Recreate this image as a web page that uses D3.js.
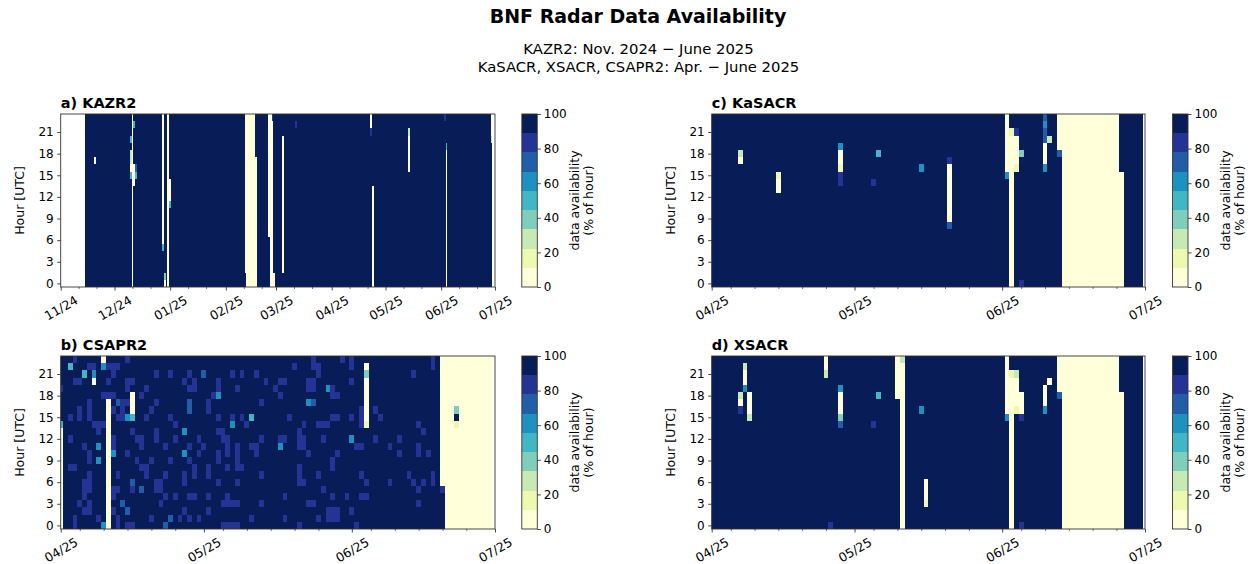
<!DOCTYPE html>
<html>
<head>
<meta charset="utf-8">
<script src="https://cdn.jsdelivr.net/npm/d3@7"></script>
<style>
  body { margin: 0; background: #fff; }
  svg { display: block; font-family: "DejaVu Sans", sans-serif; }
</style>
</head>
<body>
<svg id="chart" width="1252" height="564"></svg>
<script>
// ---- colour classes: YlGnBu, 9 equal classes from 0 to 100 % ----
const levelColors = ["#ffffd9", "#edf8b1", "#c7e9b4", "#7fcdbb", "#41b6c4",
                     "#1d91c0", "#225ea8", "#253494", "#081d58"];
const colorbarTicks = [0, 20, 40, 60, 80, 100];
const hourTicks = [0, 3, 6, 9, 12, 15, 18, 21];

// ---- time axes ----
const kazr2Axis = ["2024-11-01", "2025-07-01"];
const kazr2MonthLabels = ["11/24", "12/24", "01/25", "02/25", "03/25", "04/25", "05/25", "06/25", "07/25"];
const kazr2MinorDays = [11, 21];
const springAxis = ["2025-04-01", "2025-07-01"];
const springMonthLabels = ["04/25", "05/25", "06/25", "07/25"];
const springMinorDays = [5, 10, 15, 20, 25];

// first and last day with data for each radar
const kazr2Days = ["2024-11-15", "2025-06-29"];
const csapr2Days = ["2025-04-01", "2025-06-30"];
const kasacrDays = ["2025-04-01", "2025-06-30"];
const xsacrDays = ["2025-04-01", "2025-06-30"];

// Hours below 100 % availability.
// Each run: [day number since axis start, first hour, last hour, availability %]
const kazr2Runs = [
  [19, 17, 17, 5],
  [39, 17, 18, 30], [39, 20, 20, 55], [39, 16, 16, 0], [39, 15, 15, 55],
  [40, 0, 23, 0],
  [41, 22, 22, 55], [41, 14, 16, 0],
  [42, 16, 16, 75], [42, 15, 15, 50],
  [57, 6, 23, 0], [57, 5, 5, 55],
  [58, 1, 1, 35], [58, 0, 0, 5],
  [60, 0, 23, 0],
  [61, 12, 14, 0], [61, 11, 11, 55],
  [103, 2, 23, 0],
  [104, 0, 23, 0], [105, 0, 23, 0], [106, 0, 23, 0], [107, 0, 23, 0], [108, 0, 23, 0],
  [109, 0, 17, 0],
  [116, 7, 23, 0],
  [117, 0, 23, 0],
  [118, 0, 22, 0], [118, 23, 23, 80],
  [119, 0, 1, 0],
  [124, 2, 20, 0],
  [131, 22, 22, 80],
  [173, 22, 23, 0], [173, 21, 21, 80],
  [174, 0, 13, 0],
  [194, 21, 21, 30], [194, 16, 20, 0],
  [214, 23, 23, 80],
  [215, 19, 19, 55], [215, 0, 18, 0],
  [240, 21, 23, 0], [240, 20, 20, 25]
];

const kasacrRuns = [
  [6, 18, 18, 25], [6, 17, 17, 0],
  [14, 15, 15, 15], [14, 13, 14, 0],
  [27, 19, 19, 60], [27, 17, 18, 0], [27, 16, 16, 15], [27, 14, 15, 80],
  [34, 14, 14, 80],
  [35, 18, 18, 45],
  [44, 16, 16, 60],
  [50, 17, 17, 80], [50, 9, 16, 0], [50, 8, 8, 70],
  [62, 16, 23, 0], [62, 15, 15, 60],
  [63, 21, 21, 15], [63, 0, 20, 0],
  [64, 21, 21, 80], [64, 17, 20, 0], [64, 16, 16, 15],
  [65, 18, 18, 35], [65, 0, 0, 80],
  [70, 23, 23, 70], [70, 22, 22, 60], [70, 20, 21, 70], [70, 17, 19, 0], [70, 16, 16, 60],
  [71, 20, 20, 30],
  [73, 19, 23, 0], [73, 18, 18, 70],
  [74, 0, 23, 0], [75, 0, 23, 0], [76, 0, 23, 0], [77, 0, 23, 0], [78, 0, 23, 0], [79, 0, 23, 0],
  [80, 0, 23, 0], [81, 0, 23, 0], [82, 0, 23, 0], [83, 0, 23, 0], [84, 0, 23, 0], [85, 0, 23, 0],
  [86, 0, 15, 0]
];

const xsacrRuns = [
  [6, 18, 18, 25], [6, 17, 17, 5], [6, 16, 16, 80],
  [7, 22, 22, 25], [7, 20, 21, 0], [7, 19, 19, 60],
  [8, 16, 18, 0], [8, 15, 15, 25],
  [24, 22, 23, 0], [24, 21, 21, 25],
  [25, 0, 0, 80],
  [27, 19, 19, 60], [27, 16, 18, 0], [27, 15, 15, 35], [27, 14, 14, 70],
  [34, 14, 14, 80],
  [35, 18, 18, 45],
  [39, 18, 23, 0],
  [40, 23, 23, 25], [40, 0, 22, 0],
  [44, 16, 16, 60],
  [45, 4, 6, 0], [45, 3, 3, 15],
  [62, 16, 23, 0], [62, 15, 15, 60],
  [63, 21, 21, 15], [63, 0, 20, 0],
  [64, 21, 21, 25], [64, 17, 20, 0], [64, 16, 16, 15],
  [65, 16, 18, 0], [65, 15, 15, 80], [65, 0, 0, 80],
  [70, 17, 19, 0], [70, 16, 16, 60],
  [71, 20, 20, 0],
  [73, 19, 23, 0], [73, 18, 18, 70],
  [74, 0, 23, 0], [75, 0, 23, 0], [76, 0, 23, 0], [77, 0, 23, 0], [78, 0, 23, 0], [79, 0, 23, 0],
  [80, 0, 23, 0], [81, 0, 23, 0], [82, 0, 23, 0], [83, 0, 23, 0], [84, 0, 23, 0], [85, 0, 23, 0],
  [86, 0, 18, 0]
];

const csapr2Runs = [
  [0, 0, 13, 0], [0, 14, 14, 45],
  [7, 21, 21, 60], [7, 20, 20, 0],
  [9, 23, 23, 0], [9, 22, 22, 60],
  [10, 0, 17, 0],
  [15, 16, 18, 0], [15, 15, 15, 45],
  [64, 22, 22, 0], [64, 21, 21, 35], [64, 15, 20, 0], [64, 14, 14, 15],
  [80, 6, 23, 0], [80, 5, 5, 80],
  [81, 0, 23, 0], [82, 0, 23, 0],
  [83, 17, 23, 0], [83, 16, 16, 35], [83, 15, 15, 100], [83, 14, 14, 15], [83, 0, 13, 0],
  [84, 0, 23, 0], [85, 0, 23, 0], [86, 0, 23, 0], [87, 0, 23, 0], [88, 0, 23, 0],
  [89, 0, 23, 0], [90, 0, 23, 0]
];

// CSAPR2 single hours with partial availability: [hour, availability %, day numbers]
const csapr2Partial = [
  [23, 80, [3, 14, 53, 59, 61, 78]],
  [22, 80, [6, 7, 10, 11, 12, 49, 53, 54, 61, 78]], [22, 50, [2]],
  [21, 80, [11, 20, 23, 27, 36, 38, 41, 54, 74]], [21, 50, [5]], [21, 70, [30]],
  [20, 80, [3, 4, 10, 14, 15, 26, 28, 33, 43, 46, 47, 52, 53, 61]],
  [19, 80, [0, 14, 18, 27, 28, 33, 37, 45, 52, 53, 57]], [19, 60, [56]],
  [18, 80, [9, 10, 11, 17, 32, 46, 57, 58]], [18, 60, [33]],
  [17, 80, [6, 13, 14, 20, 31, 42]], [17, 70, [12, 27, 53]], [17, 60, [52]],
  [16, 80, [4, 6, 11, 13, 19, 31, 63, 66]], [16, 70, [27]],
  [15, 80, [2, 4, 6, 12, 13, 18, 23, 33, 36, 38, 48, 57, 58, 61, 63, 67]], [15, 60, [14]], [15, 45, [40]],
  [14, 80, [7, 8, 9, 24, 39, 51, 54, 55, 56, 63, 75]], [14, 60, [36]],
  [13, 80, [8, 15, 20, 33, 34, 50, 76]], [13, 60, [26]],
  [12, 80, [2, 11, 16, 17, 20, 24, 29, 34, 35, 42, 46, 47, 51, 50, 55, 66, 71]], [12, 60, [61]],
  [11, 80, [5, 11, 17, 22, 27, 30, 35, 37, 40, 41, 51, 50, 62, 63, 69, 75]], [11, 60, [8, 46]],
  [10, 80, [6, 14, 29, 33, 35, 37, 41, 52, 58, 71, 75, 77]], [10, 60, [11, 26]],
  [9, 80, [6, 16, 19, 23, 27, 33, 37, 57]], [9, 60, [8]],
  [8, 80, [2, 3, 17, 18, 28, 31, 35, 37, 38, 50, 57]],
  [7, 80, [6, 12, 18, 22, 26, 28, 31, 42, 50, 54, 63, 73, 78]],
  [6, 80, [5, 6, 20, 21, 26, 33, 37, 51, 50, 64, 69, 74, 76, 78]], [6, 70, [15]],
  [5, 80, [5, 6, 11, 12, 15, 20, 21, 55, 75]], [5, 70, [17]],
  [4, 80, [5, 11, 22, 24, 27, 28, 31, 35, 47, 57, 60, 63, 64]],
  [3, 80, [4, 6, 21, 34, 35, 36, 37, 42, 53, 52, 75]], [3, 70, [13]],
  [2, 80, [5, 6, 11, 26, 31, 56, 57, 58, 61]], [2, 70, [14]],
  [1, 80, [3, 8, 12, 19, 25, 27, 29, 40, 47, 54, 56, 57, 58]], [1, 70, [23]],
  [0, 80, [3, 12, 14, 15, 34, 35, 36, 37, 50, 62]], [0, 60, [9]], [0, 70, [22]]
];

// ---- figure ----
const svg = d3.select("#chart");
const parseDay = d3.utcParse("%Y-%m-%d");
const color = d3.scaleQuantize().domain([0, 100]).range(levelColors);
const spine = "#333";

svg.append("text").attr("x", 638).attr("y", 22.5).attr("text-anchor", "middle")
  .attr("font-size", 19).attr("font-weight", "bold").text("BNF Radar Data Availability");
svg.append("text").attr("x", 638.5).attr("y", 53.5).attr("text-anchor", "middle")
  .attr("font-size", 14.8).text("KAZR2: Nov. 2024 \u2212 June 2025");
svg.append("text").attr("x", 638.5).attr("y", 71.5).attr("text-anchor", "middle")
  .attr("font-size", 14.8).text("KaSACR, XSACR, CSAPR2: Apr. \u2212 June 2025");

const panels = [
  { title: "a) KAZR2", axis: kazr2Axis, days: kazr2Days, runs: kazr2Runs, partial: [],
    labels: kazr2MonthLabels, minor: kazr2MinorDays, left: 60.7, top: 114, right: 495, bottom: 287, cbx: 521.8 },
  { title: "b) CSAPR2", axis: springAxis, days: csapr2Days, runs: csapr2Runs, partial: csapr2Partial,
    labels: springMonthLabels, minor: springMinorDays, left: 60.7, top: 356, right: 495, bottom: 529, cbx: 521.8 },
  { title: "c) KaSACR", axis: springAxis, days: kasacrDays, runs: kasacrRuns, partial: [],
    labels: springMonthLabels, minor: springMinorDays, left: 711.7, top: 114, right: 1145, bottom: 287, cbx: 1172.5 },
  { title: "d) XSACR", axis: springAxis, days: xsacrDays, runs: xsacrRuns, partial: [],
    labels: springMonthLabels, minor: springMinorDays, left: 711.7, top: 356, right: 1145, bottom: 529, cbx: 1172.5 }
];

function buildCells(p) {
  const start = parseDay(p.axis[0]);
  const first = d3.utcDay.count(start, parseDay(p.days[0]));
  const last = d3.utcDay.count(start, parseDay(p.days[1]));
  const grid = new Map();
  for (let d = first; d <= last; d++) for (let h = 0; h < 24; h++) grid.set(d * 24 + h, 100);
  p.partial.forEach(([h, v, days]) => days.forEach(d => grid.set(d * 24 + h, v)));
  p.runs.forEach(([d, h0, h1, v]) => { for (let h = h0; h <= h1; h++) grid.set(d * 24 + h, v); });
  const cells = [];
  grid.forEach((v, key) => {
    const d = Math.floor(key / 24), h = key % 24;
    const date = d3.utcDay.offset(start, d);
    cells.push({ t0: d3.utcHour.offset(date, -12), t1: d3.utcHour.offset(date, 12), hour: h, value: v });
  });
  return cells;
}

panels.forEach((p, i) => {
  const start = parseDay(p.axis[0]), end = parseDay(p.axis[1]);
  const x = d3.scaleUtc().domain([start, end]).range([p.left, p.right]);
  const y = d3.scaleLinear().domain([-0.5, 23.5]).range([p.bottom, p.top]);
  const g = svg.append("g");

  const clipId = "clip" + i;
  svg.append("clipPath").attr("id", clipId).append("rect")
    .attr("x", p.left).attr("y", p.top).attr("width", p.right - p.left).attr("height", p.bottom - p.top);

  g.append("g").attr("clip-path", `url(#${clipId})`).attr("shape-rendering", "crispEdges")
    .selectAll("rect").data(buildCells(p)).join("rect")
    .attr("x", d => x(d.t0)).attr("width", d => x(d.t1) - x(d.t0))
    .attr("y", d => y(d.hour + 0.5)).attr("height", d => y(d.hour - 0.5) - y(d.hour + 0.5))
    .attr("fill", d => color(d.value));

  // x axis: month ticks with labels, minor day ticks
  const months = d3.utcMonth.range(start, d3.utcDay.offset(end, 1));
  const xAxis = d3.axisBottom(x).tickValues(months).tickSize(3.5).tickSizeOuter(0)
    .tickFormat((d, k) => p.labels[k]);
  const gx = g.append("g").attr("transform", `translate(0,${p.bottom})`).call(xAxis);
  gx.select(".domain").remove();
  gx.selectAll(".tick line").attr("stroke", spine).attr("stroke-width", 0.9);
  gx.selectAll(".tick text").attr("font-size", 12.5).attr("font-family", "DejaVu Sans").attr("fill", "#000")
    .attr("y", 0).attr("dy", "0.35em").attr("text-anchor", "middle")
    .attr("transform", "translate(0,21) rotate(-30)");
  const minorDates = d3.utcDay.range(start, end).filter(d => p.minor.includes(d.getUTCDate()));
  const gm = g.append("g").attr("transform", `translate(0,${p.bottom})`)
    .call(d3.axisBottom(x).tickValues(minorDates).tickSize(2).tickFormat(""));
  gm.select(".domain").remove();
  gm.selectAll(".tick line").attr("stroke", spine).attr("stroke-width", 0.7);

  // y axis: hours
  const gy = g.append("g").attr("transform", `translate(${p.left},0)`)
    .call(d3.axisLeft(y).tickValues(hourTicks).tickSize(3.5).tickPadding(3.5));
  gy.select(".domain").remove();
  gy.selectAll(".tick line").attr("stroke", spine).attr("stroke-width", 0.9);
  gy.selectAll(".tick text").attr("font-size", 12).attr("font-family", "DejaVu Sans").attr("fill", "#000");

  g.append("rect").attr("x", p.left).attr("y", p.top).attr("width", p.right - p.left)
    .attr("height", p.bottom - p.top).attr("fill", "none").attr("stroke", spine).attr("stroke-width", 0.9);

  g.append("text").attr("transform", `translate(${p.left - 36.5},${(p.top + p.bottom) / 2}) rotate(-90)`)
    .attr("text-anchor", "middle").attr("font-size", 12.5).text("Hour [UTC]");
  g.append("text").attr("x", p.left).attr("y", p.top - 6).attr("font-size", 14.5)
    .attr("font-weight", "bold").text(p.title);

  // colorbar
  const cbw = 15.5;
  const cy = d3.scaleLinear().domain([0, 100]).range([p.bottom, p.top]);
  const cb = svg.append("g");
  cb.append("g").attr("shape-rendering", "crispEdges").selectAll("rect").data(levelColors).join("rect")
    .attr("x", p.cbx).attr("width", cbw)
    .attr("y", (c, k) => cy((k + 1) * 100 / levelColors.length))
    .attr("height", (c, k) => cy(k * 100 / levelColors.length) - cy((k + 1) * 100 / levelColors.length))
    .attr("fill", c => c);
  cb.append("rect").attr("x", p.cbx).attr("y", p.top).attr("width", cbw).attr("height", p.bottom - p.top)
    .attr("fill", "none").attr("stroke", spine).attr("stroke-width", 0.9);
  const gc = cb.append("g").attr("transform", `translate(${p.cbx + cbw},0)`)
    .call(d3.axisRight(cy).tickValues(colorbarTicks).tickSize(3.5).tickPadding(3));
  gc.select(".domain").remove();
  gc.selectAll(".tick line").attr("stroke", spine).attr("stroke-width", 0.9);
  gc.selectAll(".tick text").attr("font-size", 12).attr("font-family", "DejaVu Sans").attr("fill", "#000");
  const lx = p.cbx + cbw + 41.5, ly = (p.top + p.bottom) / 2;
  cb.append("text").attr("transform", `translate(${lx},${ly}) rotate(-90)`).attr("text-anchor", "middle")
    .attr("font-size", 12.5).text("data availability");
  cb.append("text").attr("transform", `translate(${lx + 14},${ly}) rotate(-90)`).attr("text-anchor", "middle")
    .attr("font-size", 12.5).text("(% of hour)");
});
</script>
</body>
</html>
